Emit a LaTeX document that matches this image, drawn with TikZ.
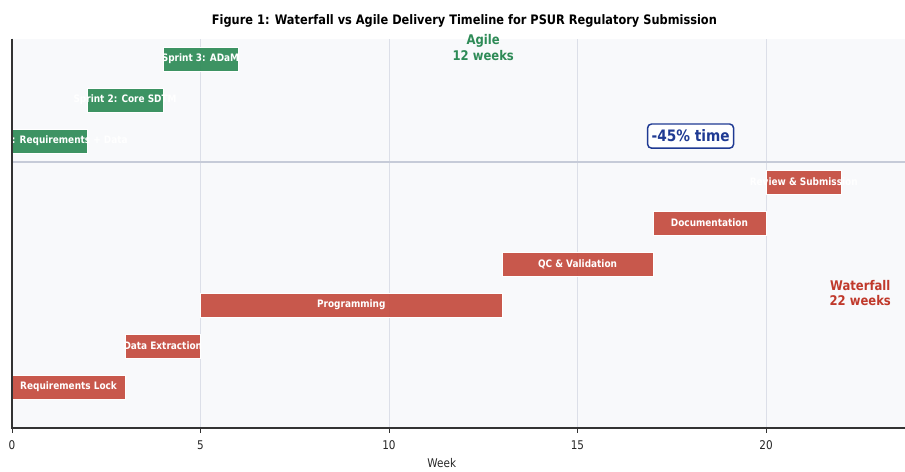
\documentclass[tikz,border=0pt]{standalone}
\usepackage{fontspec}
\setmainfont{DejaVu Sans}[FakeStretch=0.87]
\usepackage{tikz}

\definecolor{plotbg}{HTML}{F8F9FB}
\definecolor{gridcol}{HTML}{DCDFE8}
\definecolor{sepcol}{HTML}{C6CBD8}
\definecolor{agilegreen}{HTML}{2E8B57}
\definecolor{wfred}{HTML}{C0392B}
\definecolor{wfbarred}{HTML}{C44B3E}
\definecolor{savingblue}{HTML}{1F3A93}
\definecolor{spine}{HTML}{333333}

\begin{document}
\begin{tikzpicture}[x=28.275pt,y=30.75pt,
  agilebar/.style={fill=agilegreen,fill opacity=0.92,draw=white,line width=0.3pt},
  wfbar/.style={fill=wfbarred,fill opacity=0.92,draw=white,line width=0.3pt},
  barlabel/.style={text=white,font=\bfseries\fontsize{7.7}{9}\selectfont,inner sep=0pt},
  ticklabel/.style={font=\fontsize{9}{11}\selectfont,text=black!85,inner sep=0pt}]
\useasboundingbox (-0.318,-2.049) rectangle (23.687,9.439);
% plot area and grid
\fill[plotbg] (0,-1) rectangle (23.687,8.5);
\foreach \wk in {5,10,15,20}
  \draw[gridcol,line width=0.6pt] (\wk,-1) -- (\wk,8.5);
\begin{scope}
\clip (0,-1) rectangle (23.687,8.5);
% waterfall phases
\foreach \a/\b/\row/\lab/\nm in {0/3/0/Requirements Lock/reqlock,
    3/5/1/Data Extraction/extract, 5/13/2/Programming/prog,
    13/17/3/QC \& Validation/qc, 17/20/4/Documentation/docs,
    20/22/5/Review \& Submission/review}{
  \draw[wfbar] (\a,\row-0.29) rectangle (\b,\row+0.29);
  \node[barlabel] (\nm) at ({(\a+\b)/2},\row) {\lab};
}
% agile sprints
\foreach \a/\b/\row/\lab/\nm in {0/2/6/Sprint 1: Requirements + Data/sprinta,
    2/4/7/Sprint 2: Core SDTM/sprintb, 4/6/8/Sprint 3: ADaM/sprintc}{
  \draw[agilebar] (\a,\row-0.29) rectangle (\b,\row+0.29);
  \node[barlabel] (\nm) at ({(\a+\b)/2},\row) {\lab};
}
\end{scope}
% divider between the two plans
\draw[sepcol,line width=1.5pt] (0,5.5) -- (23.687,5.5);
% axes
\draw[spine,line width=0.9pt] (0,8.5) -- (0,-1) -- (23.687,-1);
\foreach \wk in {0,5,10,15,20}{
  \draw[spine,line width=0.7pt] (\wk,-1) -- ++(0,-3.5pt);
  \node[ticklabel] (tick\wk) at (\wk,-1.41) {\wk};
}
\node[ticklabel] (xlab) at (11.4,-1.86) {Week};
% annotations
\node[text=agilegreen,font=\bfseries\fontsize{10}{11.5}\selectfont,align=center,inner sep=0pt]
  (agilenote) at (12.5,8.28) {Agile\\12 weeks};
\node[text=wfred,font=\bfseries\fontsize{10}{11.5}\selectfont,align=center,inner sep=0pt]
  (wfnote) at (22.5,2.3) {Waterfall\\22 weeks};
\node[draw=savingblue,fill=white,rounded corners=3pt,line width=1.1pt,
  text=savingblue,font=\bfseries\fontsize{11.8}{13}\selectfont,inner xsep=3pt,inner ysep=4.5pt]
  (saving) at (18,6.12) {-45\% time};
\node[font=\bfseries\fontsize{9.8}{11}\selectfont,inner sep=0pt]
  (title) at (12.0,8.93) {Figure 1: Waterfall vs Agile Delivery Timeline for PSUR Regulatory Submission};
\end{tikzpicture}
\end{document}
